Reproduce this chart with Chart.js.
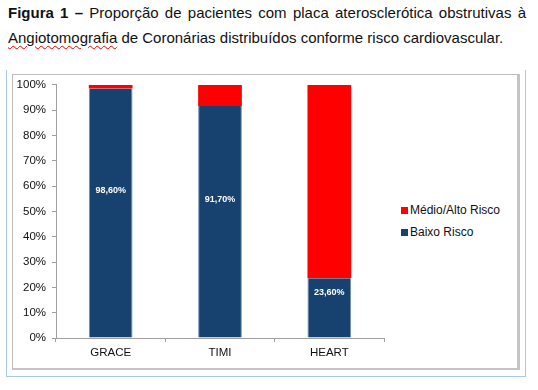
<!DOCTYPE html>
<html>
<head>
<meta charset="utf-8">
<script src="https://cdn.jsdelivr.net/npm/chart.js@4.4.0/dist/chart.umd.min.js"></script>
<style>
  body { margin:0; background:#fff; font-family:"Liberation Sans", Arial, sans-serif; }
  #title { position:absolute; left:8px; top:0px; width:518px; font-size:15px; line-height:25px; color:#111; text-align:justify; text-align-last:left; }
  #title b { font-weight:bold; }
  .spell { text-decoration: underline wavy #e00; text-decoration-thickness:1px; text-underline-offset:2px; }
  #outer { position:absolute; left:6px; top:70px; width:518px; height:306px; border-left:1px solid #a9c8ee; border-right:1px solid #a9c8ee; border-bottom:1px solid #a9c8ee; }
  #frame { position:absolute; left:12px; top:74px; width:504px; height:293px; border:1px solid #bdbdbd; border-right:3px solid #c4c4c4; border-bottom:2px solid #c4c4c4; }
  #wrap { position:absolute; left:13px; top:72px; width:380px; height:296px; }
  #legend { position:absolute; left:401px; top:201px; font-size:12px; color:#111; }
  #legend div { height:22px; line-height:18px; white-space:nowrap; }
  #legend span { display:inline-block; width:7px; height:7px; margin-right:2px; }
</style>
</head>
<body>
<div id="title"><b>Figura 1 –</b> Proporção de pacientes com placa aterosclerótica obstrutivas à <span class="spell">Angiotomografia</span> de Coronárias distribuídos conforme risco cardiovascular.</div>
<div id="outer"></div>
<div id="frame"></div>
<div id="wrap"><canvas id="c" width="380" height="296"></canvas></div>
<div id="legend"></div>
<script>
const categories = ['GRACE', 'TIMI', 'HEART'];
const baixoRisco = [98.6, 91.7, 23.6];
const medioAltoRisco = [1.4, 8.3, 76.4];
const baixoLabels = ['98,60%', '91,70%', '23,60%'];
const yTicks = [0, 10, 20, 30, 40, 50, 60, 70, 80, 90, 100];

const blue = '#17426f';
const red = '#ff0000';

// labels inside the blue bars
const barLabels = {
  id: 'barLabels',
  afterDatasetsDraw(chart) {
    const ctx = chart.ctx;
    const meta = chart.getDatasetMeta(0);
    ctx.save();
    ctx.fillStyle = '#fff';
    ctx.font = 'bold 9px "Liberation Sans", Arial, sans-serif';
    ctx.textAlign = 'center';
    ctx.textBaseline = 'middle';
    meta.data.forEach((bar, i) => {
      const mid = (bar.y + bar.base) / 2;
      ctx.fillText(baixoLabels[i], bar.x, Math.max(mid - 22, bar.y + 14));
    });
    ctx.restore();
  }
};

const chart = new Chart(document.getElementById('c'), {
  type: 'bar',
  data: {
    labels: categories,
    datasets: [
      { label: 'Baixo Risco', data: baixoRisco, backgroundColor: blue, borderColor: '#6f8fb5', borderWidth: {left:1,right:1,top:0,bottom:0}, barPercentage: 0.8, categoryPercentage: 0.5 },
      { label: 'Médio/Alto Risco', data: medioAltoRisco, backgroundColor: red, borderWidth: 0, barPercentage: 0.8, categoryPercentage: 0.5 }
    ]
  },
  options: {
    responsive: false,
    animation: false,
    layout: { padding: { top: 3, right: 9, left: 0, bottom: 0 } },
    plugins: { legend: { display: false }, tooltip: { enabled: false } },
    scales: {
      x: {
        stacked: true,
        grid: { drawOnChartArea: false, tickLength: 4, color: '#a0a0a0' },
        border: { color: '#a0a0a0' },
        ticks: { color: '#111', font: { size: 11.5, family: '"Liberation Sans", Arial, sans-serif' }, padding: 4 },
        afterFit(scale) { scale.height = 30; }
      },
      y: {
        stacked: true,
        min: 0, max: 100,
        afterBuildTicks(scale) { scale.ticks = yTicks.map(v => ({ value: v })); },
        grid: { drawOnChartArea: false, tickLength: 4, color: '#a0a0a0' },
        border: { color: '#a0a0a0' },
        ticks: { color: '#111', font: { size: 11.5, family: '"Liberation Sans", Arial, sans-serif' }, padding: 6, callback: v => v + '%' },
        afterFit(scale) { scale.width = 43; }
      }
    }
  },
  plugins: [barLabels]
});

// legend (top item first, like the stack)
const legend = document.getElementById('legend');
chart.data.datasets.slice().reverse().forEach(ds => {
  const row = document.createElement('div');
  row.innerHTML = '<span style="background:' + ds.backgroundColor + '"></span>' + ds.label;
  legend.appendChild(row);
});
</script>
</body>
</html>
